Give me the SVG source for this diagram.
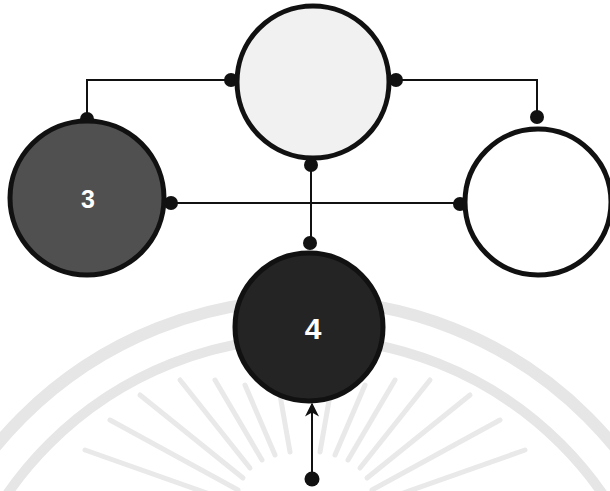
<svg xmlns="http://www.w3.org/2000/svg" width="610" height="491" viewBox="0 0 610 491">
  <style>
    .wm { fill: none; stroke: #e6e6e6; }
    .node { stroke: #111; stroke-width: 5; }
    .conn { fill: none; stroke: #111; stroke-width: 2; }
    .dot { fill: #111; }
    .lbl { font-family: "Liberation Sans", Arial, sans-serif; font-weight: bold; fill: #fff; text-anchor: middle; dominant-baseline: central; }
  </style>
  <defs>
    <marker id="arrow" viewBox="0 0 10 10" refX="9" refY="5" markerWidth="17" markerHeight="14" markerUnits="userSpaceOnUse" orient="auto">
      <path d="M0,0 L10,5 L0,10 L3,5 Z" fill="#111"/>
    </marker>
  </defs>
  <rect width="610" height="491" fill="#fff"/>

  <!-- faint background watermark -->
  <g id="watermark">
    <circle class="wm" cx="305" cy="700" r="400" stroke-width="12"/>
    <circle class="wm" cx="305" cy="700" r="362" stroke-width="10"/>
    <g stroke="#e9e9e9" stroke-width="5" stroke-linecap="round">
      <line x1="235" y1="503" x2="85" y2="450"/>
      <line x1="238" y1="490" x2="110" y2="420"/>
      <line x1="243" y1="478" x2="140" y2="395"/>
      <line x1="250" y1="468" x2="180" y2="380"/>
      <line x1="262" y1="460" x2="215" y2="380"/>
      <line x1="275" y1="455" x2="245" y2="385"/>
      <line x1="290" y1="452" x2="280" y2="395"/>
      <line x1="320" y1="452" x2="330" y2="395"/>
      <line x1="335" y1="455" x2="365" y2="385"/>
      <line x1="348" y1="460" x2="395" y2="380"/>
      <line x1="360" y1="468" x2="430" y2="380"/>
      <line x1="367" y1="478" x2="470" y2="395"/>
      <line x1="372" y1="490" x2="500" y2="420"/>
      <line x1="375" y1="503" x2="525" y2="450"/>
    </g>
  </g>

  <g id="connectors">
    <polyline class="conn" points="231,80 87,80 87,121"/>
    <polyline class="conn" points="395,80 537,80 537,118"/>
    <line class="conn" x1="170" y1="203" x2="458" y2="203"/>
    <line class="conn" x1="311" y1="165" x2="311" y2="243"/>
    <line class="conn" x1="312" y1="478" x2="312" y2="404" marker-end="url(#arrow)"/>
    <circle class="dot" cx="231" cy="80" r="7"/>
    <circle class="dot" cx="396" cy="80" r="7"/>
    <circle class="dot" cx="87" cy="119" r="7"/>
    <circle class="dot" cx="537" cy="117" r="7"/>
    <circle class="dot" cx="171" cy="203" r="7"/>
    <circle class="dot" cx="460" cy="204" r="7"/>
    <circle class="dot" cx="311" cy="165" r="7"/>
    <circle class="dot" cx="310" cy="243" r="7"/>
    <circle class="dot" cx="312" cy="479" r="7.5"/>
  </g>

  <g id="node-top">
    <circle class="node" cx="313" cy="82" r="76" fill="#f1f1f1"/>
  </g>
  <g id="node-3">
    <circle class="node" cx="87" cy="198" r="77" fill="#505050"/>
    <text class="lbl" x="88" y="199" font-size="25">3</text>
  </g>
  <g id="node-right">
    <circle class="node" cx="538" cy="202" r="73" fill="#fff"/>
  </g>
  <g id="node-4">
    <circle class="node" cx="309" cy="327" r="74" fill="#242424"/>
    <text class="lbl" x="313" y="328" font-size="30">4</text>
  </g>
</svg>
